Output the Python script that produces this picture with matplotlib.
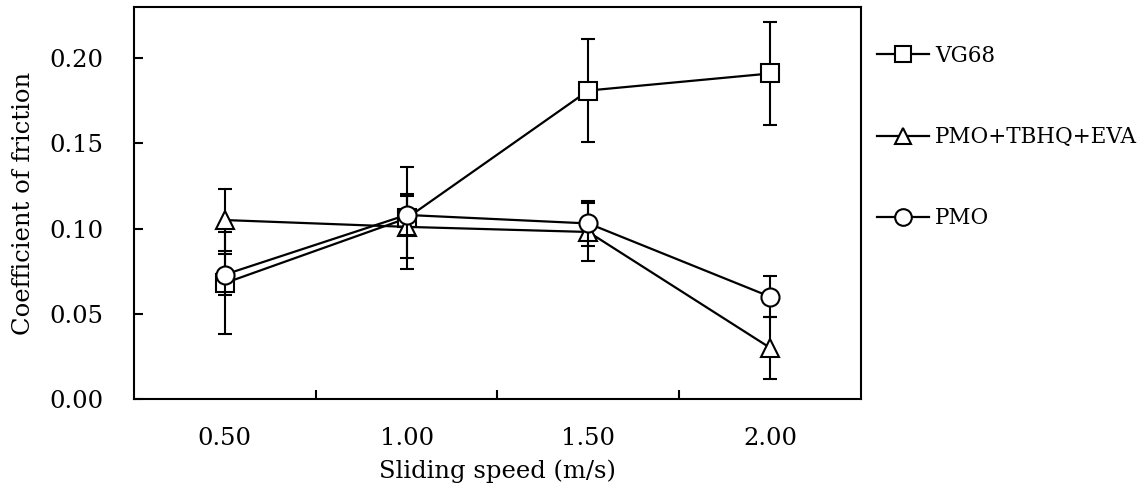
import matplotlib
matplotlib.use('Agg')
import matplotlib.pyplot as plt
from matplotlib.lines import Line2D
import numpy as np

# --- data ---
speeds = ['0.50', '1.00', '1.50', '2.00']

vg68 = [0.068, 0.106, 0.181, 0.191]
vg68_err = [0.030, 0.030, 0.030, 0.030]

pmo_tbhq_eva = [0.105, 0.101, 0.098, 0.030]
pmo_tbhq_eva_err = [0.018, 0.018, 0.017, 0.018]

pmo = [0.073, 0.108, 0.103, 0.060]
pmo_err = [0.012, 0.012, 0.013, 0.012]

series = [
    ('VG68', vg68, vg68_err, 's'),
    ('PMO+TBHQ+EVA', pmo_tbhq_eva, pmo_tbhq_eva_err, '^'),
    ('PMO', pmo, pmo_err, 'o'),
]

plt.rcParams['font.family'] = ['DejaVu Serif']
FS = 17.5      # tick and axis labels
FS_LEG = 15.5  # legend (caps run wide in DejaVu Serif)

fig = plt.figure(figsize=(11.4, 4.91), dpi=100)
ax = fig.add_axes([0.1175, 0.1874, 0.6378, 0.7983])

x = np.arange(len(speeds))
handles = []
for i, (name, vals, err, mk) in enumerate(series):
    ax.errorbar(x, vals, yerr=err, color='black', lw=1.6, elinewidth=1.5,
                capsize=5, capthick=1.5, marker=mk, ms=13, mfc='white',
                mec='black', mew=1.5, zorder=3 + i)
    handles.append(Line2D([], [], color='black', lw=1.6, marker=mk, ms=12,
                          mfc='white', mec='black', mew=1.5))

ax.set_xlim(-0.5, 3.5)
ax.set_ylim(0, 0.23)
ax.set_yticks([0, 0.05, 0.10, 0.15, 0.20])
ax.set_yticklabels(['0.00', '0.05', '0.10', '0.15', '0.20'])

# category ticks between groups, labels at group centres
ax.set_xticks([0.5, 1.5, 2.5])
ax.set_xticklabels([])
ax.set_xticks(x, minor=True)
ax.set_xticklabels(speeds, minor=True)
ax.tick_params(axis='x', which='minor', length=0, pad=20, labelsize=FS)
ax.tick_params(axis='x', which='major', direction='in', length=6.3, width=1.5)
ax.tick_params(axis='y', direction='in', length=6.3, width=1.5, labelsize=FS, pad=22)

for s in ax.spines.values():
    s.set_linewidth(1.5)

ax.set_xlabel('Sliding speed (m/s)', fontsize=FS, labelpad=7)
ax.set_ylabel('Coefficient of friction', fontsize=FS, labelpad=10)

ax.legend(handles, [s[0] for s in series], loc='upper left',
          bbox_to_anchor=(1.01, 0.925), frameon=False, fontsize=FS_LEG,
          handlelength=2.4, handletextpad=0.3, labelspacing=2.75,
          borderaxespad=0)

fig.savefig('out.png', dpi=100)
